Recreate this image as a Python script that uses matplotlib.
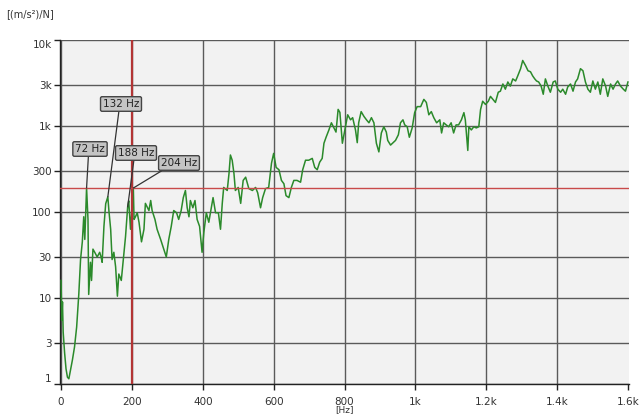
import numpy as np
import matplotlib.pyplot as plt
from matplotlib.ticker import FixedLocator, NullLocator

# Frequency response function: accelerance vs. frequency
freq_hz = [0, 2, 4, 6, 10, 14, 18, 22, 32, 38, 44, 50, 55, 60, 64, 67, 72, 76, 78, 83,
           86, 90, 95, 102, 109, 113, 116, 121, 126, 132, 135, 140, 144, 149, 154, 159,
           163, 170, 175, 182, 188, 191, 196, 204, 206, 210, 215, 220, 227, 234, 238,
           248, 253, 257, 265, 271, 281, 290, 297, 304, 311, 318, 326, 332, 339, 345,
           351, 356, 361, 365, 372, 378, 384, 391, 398, 403, 410, 417, 424, 429, 436,
           444, 450, 455, 459, 469, 474, 478, 483, 488, 492, 500, 507, 514, 521, 530,
           540, 549, 555, 563, 569, 577, 586, 594, 600, 607, 615, 622, 629, 635, 643,
           650, 657, 666, 676, 682, 690, 699, 709, 716, 723, 730, 737, 742, 748, 756,
           763, 770, 776, 782, 787, 794, 801, 809, 817, 823, 831, 836, 840, 847, 855,
           862, 869, 876, 883, 890, 897, 904, 911, 918, 922, 930, 937, 944, 952, 958,
           965, 970, 977, 983, 991, 998, 1005, 1015, 1024, 1031, 1038, 1045, 1052, 1060,
           1069, 1074, 1080, 1087, 1094, 1101, 1108, 1115, 1122, 1130, 1137, 1141, 1148,
           1151, 1158, 1165, 1172, 1179, 1184, 1190, 1198, 1206, 1212, 1219, 1226, 1234,
           1240, 1247, 1254, 1261, 1268, 1275, 1283, 1289, 1297, 1303, 1311, 1318, 1325,
           1331, 1337, 1342, 1348, 1355, 1361, 1367, 1374, 1381, 1389, 1395, 1402, 1410,
           1416, 1424, 1430, 1438, 1445, 1452, 1458, 1466, 1473, 1480, 1487, 1494, 1501,
           1508, 1515, 1522, 1529, 1537, 1543, 1551, 1558, 1565, 1571, 1579, 1587, 1593,
           1600]

accel = [16, 5.5, 9, 4, 2.3, 1.5, 1.2, 1.15, 1.9, 2.7, 4.6, 11, 28, 45, 88, 48, 190, 82, 11, 26,
         16, 37, 34, 30, 34, 30, 26, 68, 125, 150, 104, 63, 28, 34, 23, 10.5,
         19, 16, 26, 52, 115, 135, 63, 190, 82, 88, 98, 76, 45, 63, 126,
         104, 136, 104, 82, 63, 48, 37, 30, 48, 68, 104, 98, 82, 104, 147,
         178, 112, 88, 136, 112, 136, 82, 68, 34, 58, 98, 76, 112, 147, 98,
         98, 63, 126, 193, 178, 280, 460, 400, 280, 178, 193, 126, 233, 254, 187,
         178, 193, 167, 112, 147, 187, 193, 370, 480, 330, 310, 233, 213, 155, 147,
         193, 233, 233, 222, 310, 400, 400, 420, 330, 310, 380, 420, 630, 740, 900,
         1090, 950, 850, 1560, 1440, 630, 900, 1350, 1180, 1250, 900, 640, 1090, 1470, 1290,
         1180, 1090, 1250, 1090, 630, 500, 830, 980, 850, 680, 600, 640, 680, 790, 1090,
         1180, 1030, 980, 740, 950, 1430, 1680, 1680, 2040, 1880, 1350, 1470, 1250, 1090,
         1180, 830, 1090, 1030, 980, 1090, 830, 1030, 1030, 1180, 1430, 1180, 520,
         980, 900, 980, 950, 980, 1550, 1940, 1780, 1940, 2210, 2040, 1880, 2470,
         2540, 3080, 2680, 3250, 2910, 3530, 3340, 3830, 4640, 5780, 5040, 4390, 4270,
         3830, 3530, 3340, 3250, 2910, 2340, 3530, 2910, 2470, 3250, 3340, 2680, 2470,
         2680, 2340, 2840, 3080, 2540, 3250, 3530, 4640, 4390, 3250, 2680, 2470, 3340,
         2680, 3250, 2340, 3530, 2910, 2210, 3080, 2680, 3080, 3340, 2910, 2680, 2540,
         3250]

peak_hz = [72, 132, 188, 204]
peak_labels = ["72 Hz", "132 Hz", "188 Hz", "204 Hz"]

cursor_hz = 200
cursor_level = 190

x_ticks = [0, 200, 400, 600, 800, 1000, 1200, 1400, 1600]
x_labels = ["0", "200", "400", "600", "800", "1k", "1.2k", "1.4k", "1.6k"]
y_ticks = [1, 3, 10, 30, 100, 300, 1000, 3000, 10000]
y_labels = ["1", "3", "10", "30", "100", "300", "1k", "3k", "10k"]

plt.rcParams["font.family"] = "DejaVu Sans"

fig = plt.figure(figsize=(6.39, 4.19), dpi=100)
ax = fig.add_axes([60 / 639, 35 / 419, 569 / 639, 344 / 419])
ax.set_facecolor("#f2f2f2")

ax.set_yscale("log")
ax.set_xlim(-3, 1603)
ax.set_ylim(1, 10000)

ax.xaxis.set_major_locator(FixedLocator(x_ticks))
ax.set_xticklabels(x_labels)
ax.yaxis.set_major_locator(FixedLocator(y_ticks))
ax.yaxis.set_minor_locator(NullLocator())
ax.set_yticklabels(y_labels)

ax.grid(True, color="#5a5a5a", linewidth=1.0)
ax.set_axisbelow(True)
# no grid line along the right edge
ax.xaxis.get_gridlines()[-1].set_visible(False)
for s in ["top", "right"]:
    ax.spines[s].set_visible(False)
for s in ["left", "bottom"]:
    ax.spines[s].set_color("#222222")
    ax.spines[s].set_linewidth(1.0)
ax.tick_params(axis="both", length=4, width=1, color="#222222",
               labelsize=7.5, labelcolor="#333333")
ax.tick_params(axis="x", pad=5)
ax.tick_params(axis="y", pad=2)

# nudge the end labels inward like the analyzer does
ylabs = ax.get_yticklabels()
ylabs[0].set_verticalalignment("bottom")
ylabs[-1].set_verticalalignment("top")

ax.plot(freq_hz, accel, color="#2b8a2b", linewidth=1.1, zorder=3)

# cursor lines
ax.axvline(cursor_hz, color="#b33535", linewidth=1.6, zorder=4)
ax.axhline(cursor_level, color="#c94a4a", linewidth=1.0, zorder=4)

# peak markers with leader lines
label_pos = [(90, 270), (121, 315), (136, 266), (179, 256)]
rel = [(0.45, 0.0), (0.45, 0.0), (0.45, 0.0), (0.15, 0.0)]
for hz, txt, pos, rp in zip(peak_hz, peak_labels, label_pos, rel):
    val = accel[freq_hz.index(hz)]
    ax.annotate(txt, xy=(hz, val), xytext=pos, textcoords="figure pixels",
                ha="center", va="center", fontsize=7.5, color="#222222",
                bbox=dict(boxstyle="round,pad=0.22,rounding_size=0.15",
                          fc="#c4c4c4", ec="#444444", lw=1.0),
                arrowprops=dict(arrowstyle="-", color="#333333", lw=0.9,
                                relpos=rp, shrinkA=0, shrinkB=0),
                zorder=5)

fig.text(6 / 639, 1 - 14 / 419, "[(m/s²)/N]", fontsize=7, color="#333333",
         ha="left", va="center")
fig.text(345 / 639, 1 - 410 / 419, "[Hz]", fontsize=6.5, color="#333333",
         ha="center", va="center")

fig.savefig("out.png", dpi=100)
